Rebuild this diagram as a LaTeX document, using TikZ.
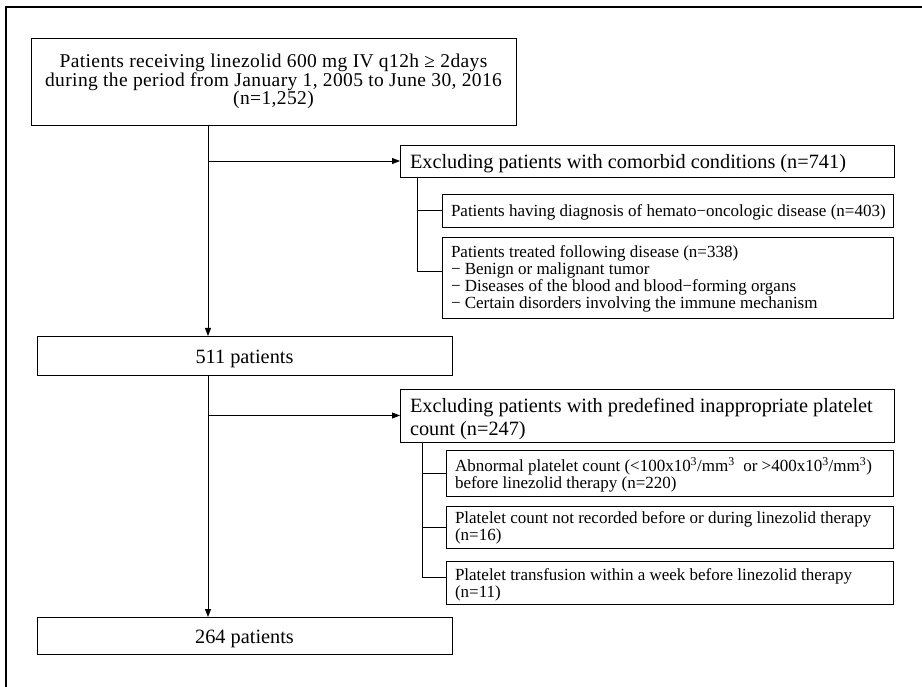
\documentclass[tikz,border=0pt]{standalone}
\usepackage{fontspec}
\setmainfont{Liberation Serif}
\newfontfamily\spacedserif[LetterSpace=2]{Liberation Serif}
\usetikzlibrary{arrows.meta,calc}
\begin{document}
\begin{tikzpicture}[x=1pt,y=-1pt,
  box/.style={draw=black, line width=0.9pt, anchor=north west, inner sep=0pt, outer sep=0pt},
  txt/.style={inner sep=0pt, outer sep=0pt},
  toptxt/.style={txt, font=\spacedserif\fontsize{19.5}{18.4}\selectfont},
  bigtxt/.style={txt, font=\fontsize{20.3}{22.5}\selectfont},
  smalltxt/.style={txt, font=\fontsize{17}{17.2}\selectfont},
  arr/.style={line width=0.8pt, -{Triangle[length=8pt,width=6pt]}},
  ln/.style={line width=0.8pt}]
\useasboundingbox (0,0) rectangle (922,687);
\draw[line width=1.5pt] (6,687) -- (6,7) -- (922,7);

% boxes
\node[box, minimum width=485pt, minimum height=87pt] (b1) at (31,38) {};
\node[box, minimum width=415pt, minimum height=39pt] (p511) at (37,336) {};
\node[box, minimum width=415pt, minimum height=37pt] (p264) at (37,617) {};
\node[box, minimum width=494pt, minimum height=32pt] (e1) at (400,145) {};
\node[box, minimum width=451pt, minimum height=33pt] (h) at (442,194) {};
\node[box, minimum width=451pt, minimum height=81pt] (t) at (442,237) {};
\node[box, minimum width=494pt, minimum height=53pt] (e2) at (400,389) {};
\node[box, minimum width=447pt, minimum height=46pt] (a) at (446,450) {};
\node[box, minimum width=447pt, minimum height=42pt] (n) at (446,506) {};
\node[box, minimum width=447pt, minimum height=43pt] (r) at (446,561) {};

% texts
\node[toptxt, align=center] (b1t) at (b1.center)
  {Patients receiving linezolid 600 mg IV q12h ≥ 2days\\during the period from January 1, 2005 to June 30, 2016\\(n=1,252)};
\node[bigtxt] (p511t) at ([yshift=-3pt]p511.center) {511 patients};
\node[bigtxt] (p264t) at ([yshift=-3pt]p264.center) {264 patients};
\node[bigtxt, anchor=west] (e1t) at ([xshift=10pt,yshift=-3pt]e1.west)
  {Excluding patients with comorbid conditions (n=741)};
\node[smalltxt, anchor=west] (ht) at ([xshift=9pt,yshift=-2pt]h.west)
  {Patients having diagnosis of hemato−oncologic disease (n=403)};
\node[smalltxt, anchor=west, align=left] (tt) at ([xshift=9pt,yshift=-1.5pt]t.west)
  {Patients treated following disease (n=338)\\
   − Benign or malignant tumor\\
   − Diseases of the blood and blood−forming organs\\
   − Certain disorders involving the immune mechanism};
\node[bigtxt, anchor=west, align=left] (e2t) at ([xshift=10pt,yshift=-3.5pt]e2.west)
  {Excluding patients with predefined inappropriate platelet\\count (n=247)};
\node[smalltxt, anchor=west, align=left] (at) at ([xshift=9pt,yshift=-2pt]a.west)
  {Abnormal platelet count (<100x10\textsuperscript{3}/mm\textsuperscript{3}\ \ or >400x10\textsuperscript{3}/mm\textsuperscript{3})\\before linezolid therapy (n=220)};
\node[smalltxt, anchor=west, align=left] (nt) at ([xshift=9pt,yshift=-1pt]n.west)
  {Platelet count not recorded before or during linezolid therapy\\(n=16)};
\node[smalltxt, anchor=west, align=left] (rt) at ([xshift=9pt,yshift=-2pt]r.west)
  {Platelet transfusion within a week before linezolid therapy\\(n=11)};

% trunk
\coordinate (trunk) at (208,0);
\draw[arr] (b1.south -| trunk) -- (p511.north -| trunk);
\draw[arr] (p511.south -| trunk) -- (p264.north -| trunk);
\draw[arr] (e1.west -| trunk) -- (e1.west);
\draw[arr] (e2.west -| trunk) -- (e2.west);

% sub-branches
\draw[ln] ([xshift=17pt]e1.south west) |- (h.west);
\draw[ln] ([xshift=17pt]e1.south west) |- ([yshift=6.5pt]t.west);
\draw[ln] ([xshift=22pt]e2.south west) |- (a.west);
\draw[ln] ([xshift=22pt]e2.south west) |- (n.west);
\draw[ln] ([xshift=22pt]e2.south west) |- ([yshift=5pt]r.west);
\end{tikzpicture}
\end{document}
